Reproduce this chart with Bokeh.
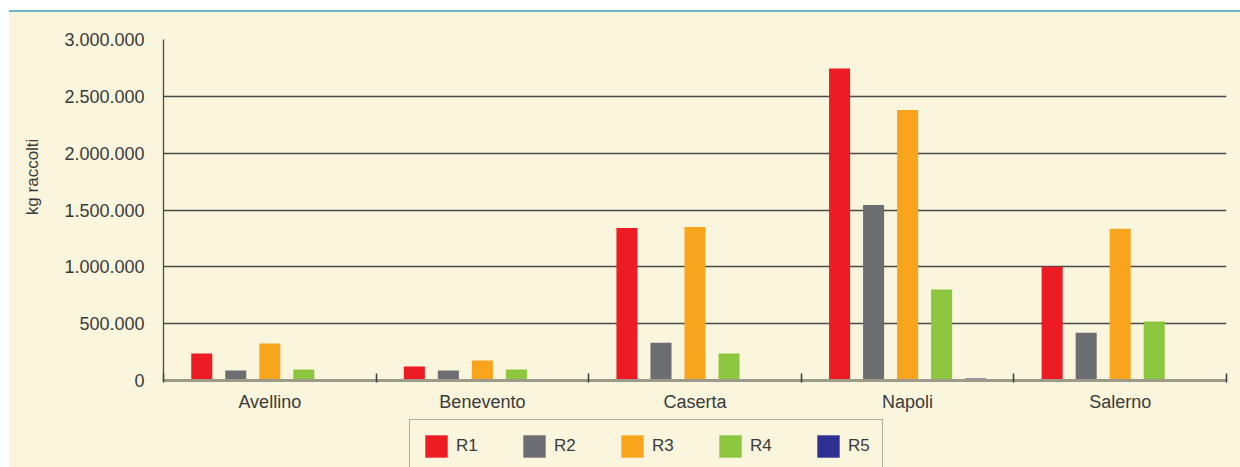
from bokeh.plotting import figure
from bokeh.models import (Range1d, FixedTicker, Legend, LegendItem, ColumnDataSource,
                          Label, Div)
from bokeh.layouts import column, row
from bokeh.transform import dodge
from bokeh.embed import file_html
from bokeh.resources import INLINE
import math

# ---------------- data ----------------
provinces = ["Avellino", "Benevento", "Caserta", "Napoli", "Salerno"]
series = ["R1", "R2", "R3", "R4", "R5"]
r1 = [237000, 123000, 1342000, 2745000, 1000000]
r2 = [88000, 88000, 333000, 1545000, 420000]
r3 = [325000, 175000, 1351000, 2380000, 1335000]
r4 = [96000, 96000, 237000, 800000, 518000]
r5 = [12000, 5000, 8000, 18000, 7000]
y_ticks = [0, 500000, 1000000, 1500000, 2000000, 2500000, 3000000]
y_tick_labels = ["0", "500.000", "1.000.000", "1.500.000", "2.000.000", "2.500.000", "3.000.000"]
y_title = "kg raccolti"

colors = ["#ed1c24", "#6d6e71", "#f8a51d", "#8dc63f", "#2e3192"]
BG = "#faf5dd"
TXT = "#3a3a3a"
FONT = "Liberation Sans"

centers = [i + 0.5 for i in range(len(provinces))]
src = ColumnDataSource(dict(x=centers, R1=r1, R2=r2, R3=r3, R4=r4, R5=r5))
offsets = [-0.32, -0.16, 0.0, 0.16, 0.32]

# ---------------- main chart ----------------
p = figure(width=1181, height=407, output_backend="svg", toolbar_location=None,
           x_range=Range1d(0, len(provinces)), y_range=Range1d(0, 3000000),
           min_border_left=104, min_border_right=14, min_border_top=27, min_border_bottom=39)
p.background_fill_color = BG
p.border_fill_color = BG
p.outline_line_color = None

for s, off, c in zip(series, offsets, colors):
    p.vbar(x=dodge("x", off), top=s, width=0.099, source=src,
           fill_color=c, line_color=None)

# y axis
p.yaxis.ticker = FixedTicker(ticks=y_ticks)
p.yaxis.major_label_overrides = {t: l for t, l in zip(y_ticks, y_tick_labels)}
p.yaxis.major_tick_line_color = None
p.yaxis.major_tick_out = 0
p.yaxis.major_tick_in = 0
p.yaxis.minor_tick_line_color = None
p.yaxis.axis_line_color = "#4a4a4a"
p.yaxis.axis_line_width = 1.3
p.yaxis.major_label_standoff = 19
p.yaxis.major_label_text_font = FONT
p.yaxis.major_label_text_font_size = "18px"
p.yaxis.major_label_text_color = TXT

# x axis
p.xaxis.ticker = FixedTicker(ticks=centers, minor_ticks=list(range(len(provinces) + 1)))
p.xaxis.major_label_overrides = {c: n for c, n in zip(centers, provinces)}
p.xaxis.major_tick_line_color = None
p.xaxis.major_tick_out = 0
p.xaxis.major_tick_in = 0
p.xaxis.minor_tick_line_color = "#3a3a3a"
p.xaxis.minor_tick_line_width = 1.5
p.xaxis.minor_tick_in = 7
p.xaxis.minor_tick_out = 2
p.xaxis.axis_line_color = "#9d9a8a"
p.xaxis.axis_line_width = 3
p.xaxis.major_label_standoff = 9
p.xaxis.major_label_text_font = FONT
p.xaxis.major_label_text_font_size = "18px"
p.xaxis.major_label_text_color = TXT

p.xgrid.grid_line_color = None
p.ygrid.grid_line_color = "#4a4a4a"
p.ygrid.grid_line_width = 1.3

# ---------------- y title strip ----------------
yt = figure(width=50, height=407, output_backend="svg", toolbar_location=None,
            x_range=Range1d(0, 50), y_range=Range1d(0, 407),
            x_axis_type=None, y_axis_type=None, min_border=0)
yt.background_fill_color = BG
yt.border_fill_color = BG
yt.outline_line_color = None
yt.grid.grid_line_color = None
yt.add_layout(Label(x=23, y=243, text=y_title, angle=math.pi / 2,
                    text_align="center", text_baseline="middle",
                    text_font=FONT, text_font_size="17px", text_color=TXT))

# ---------------- legend strip ----------------
# zero-width bars far outside the strip's range: only the legend swatches show
lg = figure(width=1231, height=48, output_backend="svg", toolbar_location=None,
            x_range=Range1d(0, len(provinces)), y_range=Range1d(-2e7, -1e7),
            x_axis_type=None, y_axis_type=None, min_border=0)
lg.background_fill_color = BG
lg.border_fill_color = BG
lg.outline_line_color = None
lg.grid.grid_line_color = None
items = []
for s, off, c in zip(series, offsets, colors):
    r = lg.vbar(x=dodge("x", off), top=s, width=0, source=src,
                fill_color=c, line_color=None)
    items.append(LegendItem(label=s, renderers=[r]))
legend = Legend(items=items, orientation="horizontal", location=(400, -5.5),
                glyph_width=28, glyph_height=28, label_standoff=6, label_width=22,
                spacing=42, padding=12, margin=0,
                label_text_font=FONT, label_text_font_size="17px", label_text_color=TXT,
                background_fill_color=BG, background_fill_alpha=1,
                border_line_color="#666666", border_line_width=1.3)
lg.add_layout(legend, "center")

rule = Div(text="", width=1231, height=2, margin=(10, 0, 0, 9),
           styles={"background-color": "#6cb6cb", "overflow": "hidden"})

panel = column(row(yt, p, spacing=0, styles={"background-color": BG}), lg,
               spacing=0, margin=(0, 0, 0, 9), styles={"background-color": BG})
layout = column(rule, panel, spacing=0)
open("out.html", "w").write(file_html(layout, INLINE))
